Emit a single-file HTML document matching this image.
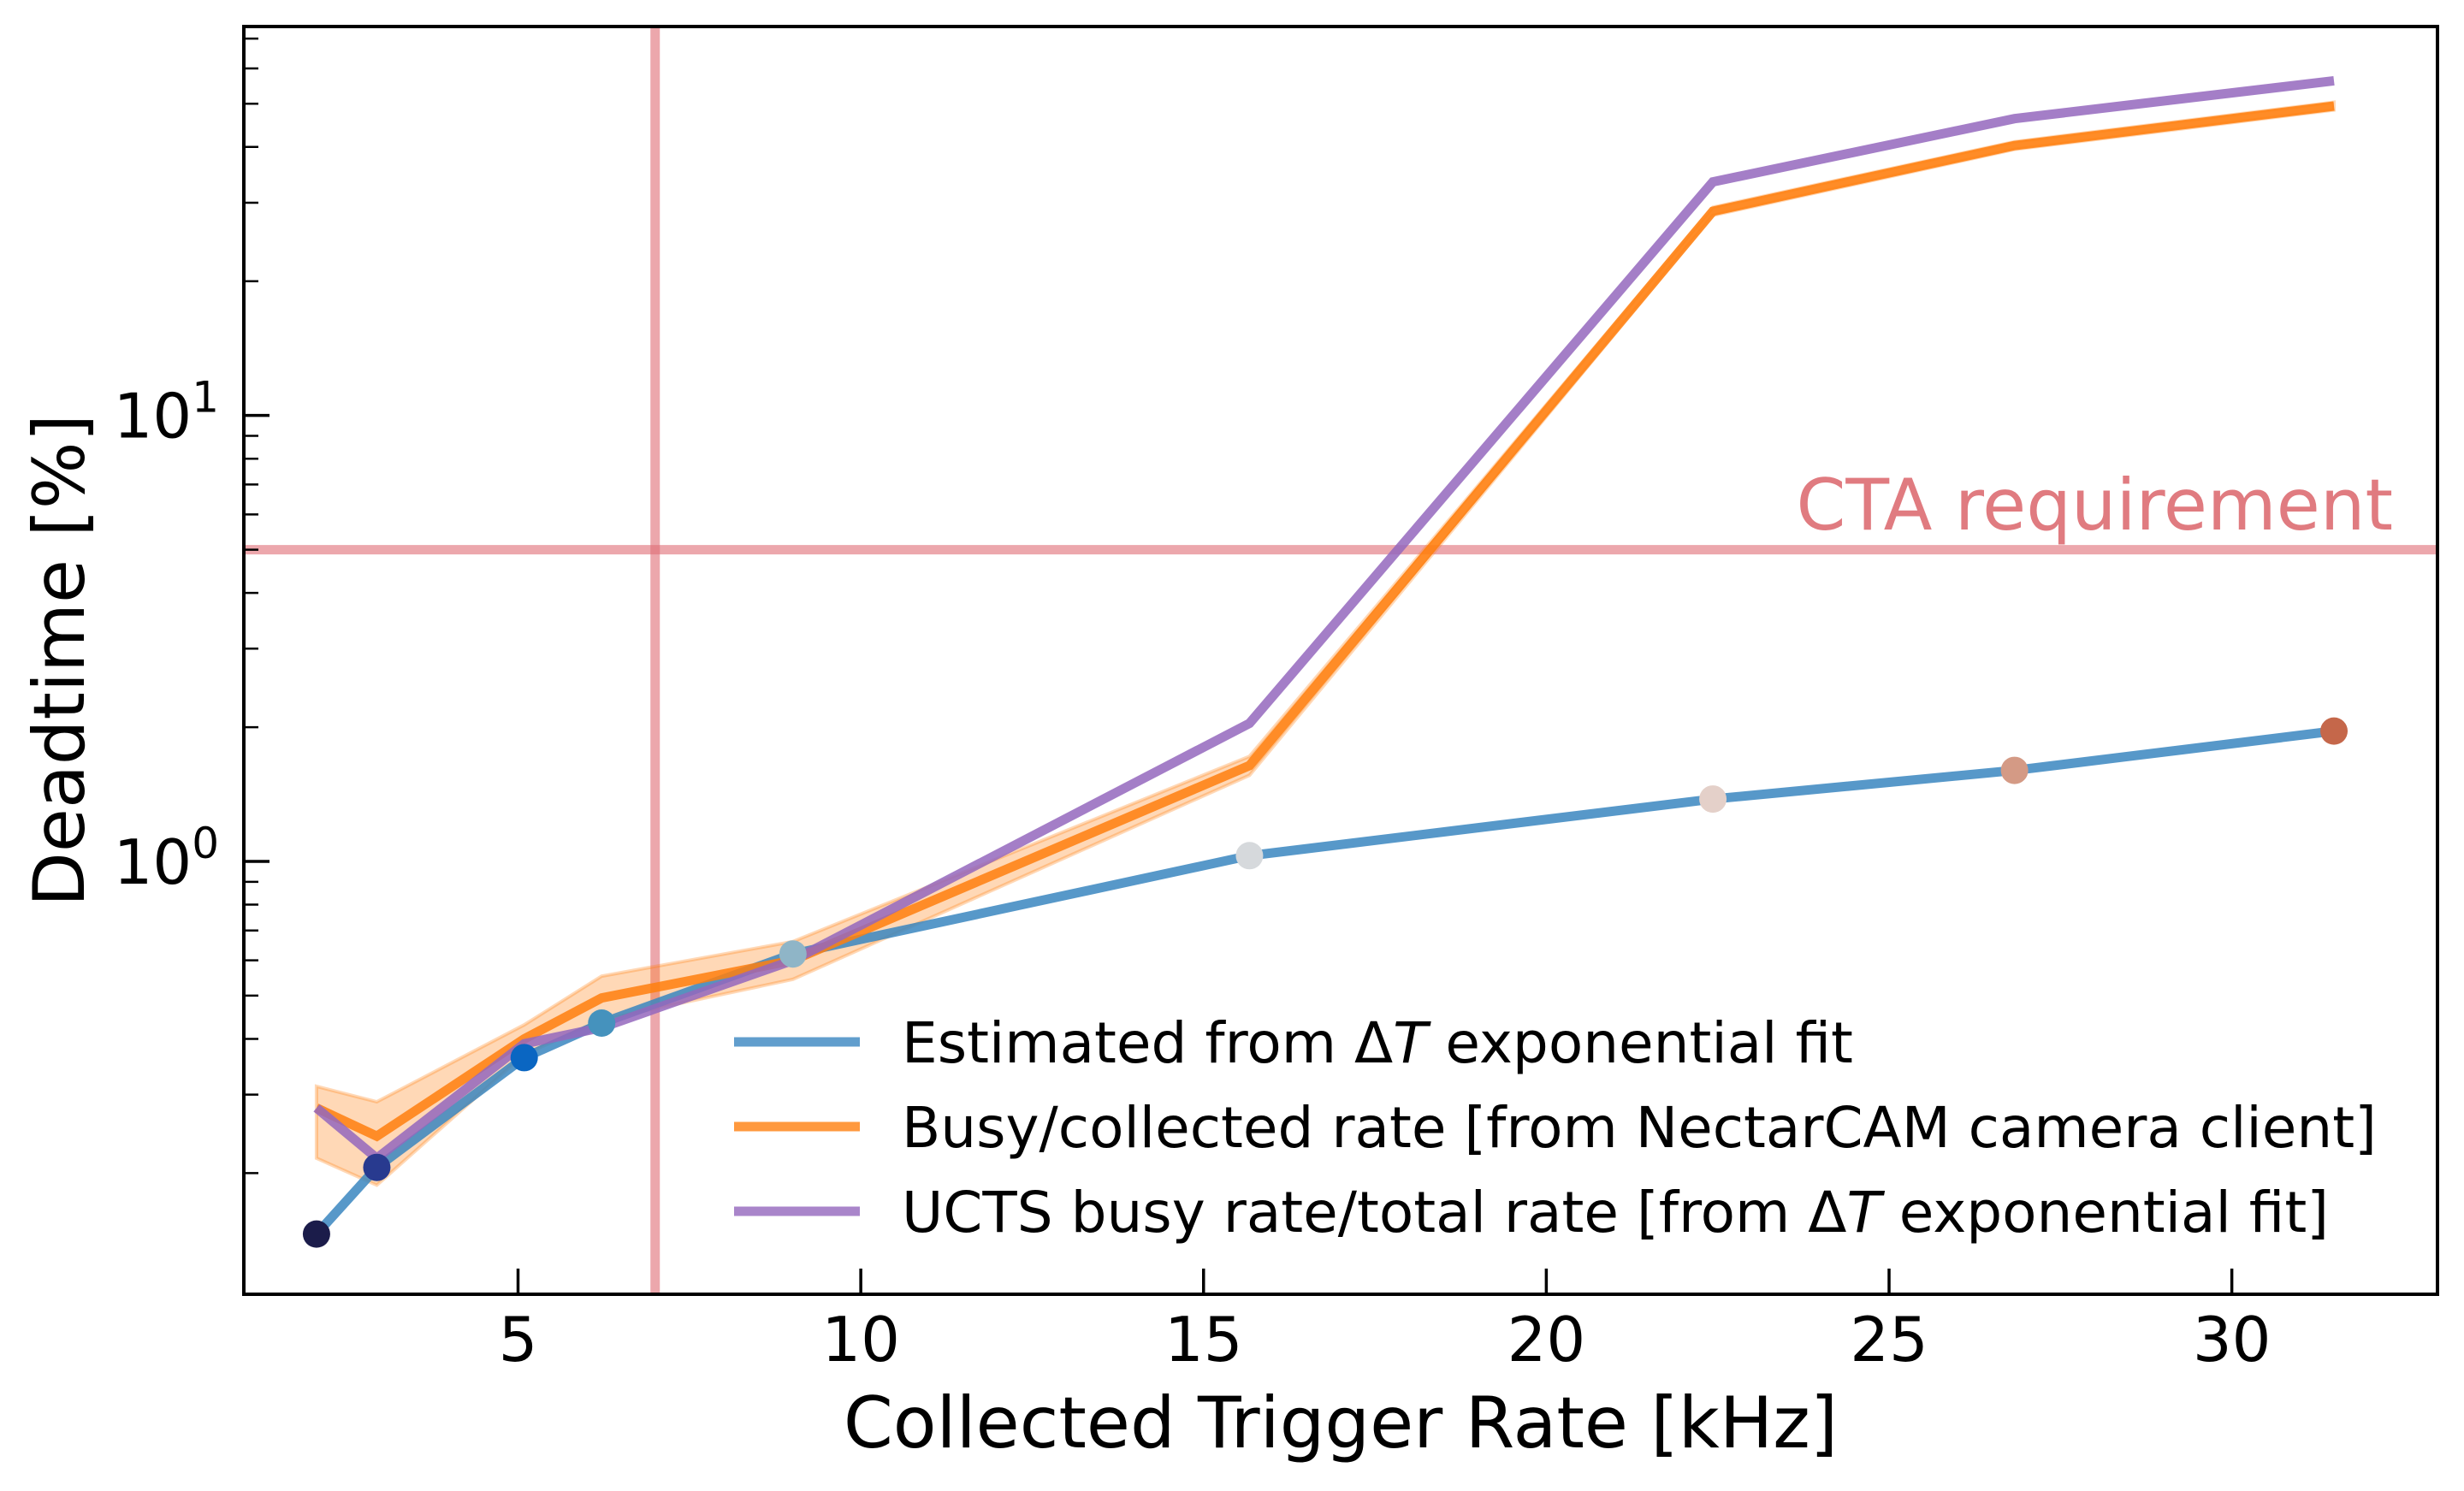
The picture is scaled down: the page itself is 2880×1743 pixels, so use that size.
<!DOCTYPE html>
<html><head><meta charset="utf-8"><style>
html,body{margin:0;padding:0;background:#fff;}
svg{display:block;font-family:"DejaVu Sans","Liberation Sans",sans-serif;}
</style></head><body>
<svg id="chart" width="2880" height="1743" viewBox="0 0 2880 1743" xmlns="http://www.w3.org/2000/svg">
<rect width="2880" height="1743" fill="#fff"/>
<g id="plot"></g>
</svg>
<script>
const rates = [2.06, 2.94, 5.09, 6.22, 9.01, 15.67, 22.43, 26.83, 31.49];
const estimated = [0.146, 0.206, 0.363, 0.434, 0.62, 1.03, 1.38, 1.60, 1.96];
const busy = [0.28, 0.242, 0.40, 0.494, 0.60, 1.64, 28.7, 40.3, 49.4];
const busyUpper = [0.313, 0.289, 0.43, 0.553, 0.661, 1.72, 29.3, 41.1, 50.4];
const busyLower = [0.216, 0.188, 0.369, 0.441, 0.544, 1.56, 28.1, 39.5, 48.4];
const ucts = [0.28, 0.216, 0.39, 0.424, 0.60, 2.04, 33.4, 46.3, 56.3];
const pointColors = ["#1b1c4a", "#283a8f", "#0a66c2", "#4592bd", "#8fb5c7", "#d6d9dc", "#e4d0c9", "#d49a85", "#c5674a"];
const xTicks = [5, 10, 15, 20, 25, 30];
const yMajor = [0, 1];
const ctaRequirement = 5;
const vLineRate = 7;

const L = 285, R = 2849, T = 31, B = 1513;
const xMin = 1, xMax = 33, yMinLog = Math.log10(0.107), yMaxLog = Math.log10(74.5);
const X = v => L + (v - xMin) / (xMax - xMin) * (R - L);
const Y = v => B - (Math.log10(v) - yMinLog) / (yMaxLog - yMinLog) * (B - T);
const NS = "http://www.w3.org/2000/svg";
const g = document.getElementById("plot");
function mk(tag, attrs, parent) {
  const e = document.createElementNS(NS, tag);
  for (const k in attrs) e.setAttribute(k, attrs[k]);
  (parent || g).appendChild(e);
  return e;
}
const defs = mk("defs", {});
const cp = mk("clipPath", {id: "clip"}, defs);
mk("rect", {x: L, y: T, width: R - L, height: B - T}, cp);
const data = mk("g", {"clip-path": "url(#clip)"});



let vl = mk("line", {x1: X(vLineRate), x2: X(vLineRate), y1: T, y2: B, stroke: "#e06c75", "stroke-opacity": 0.6, "stroke-width": 11}, data);


let hl = mk("line", {x1: L, x2: R, y1: Y(ctaRequirement), y2: Y(ctaRequirement), stroke: "#e06c75", "stroke-opacity": 0.6, "stroke-width": 11}, data);



let bandPts = rates.map((r, i) => X(r) + "," + Y(busyUpper[i]));
for (let i = rates.length - 1; i >= 0; i--) bandPts.push(X(rates[i]) + "," + Y(busyLower[i]));
let band = mk("polygon", {points: bandPts.join(" "), fill: "#ff7f0e", "fill-opacity": 0.3, stroke: "#ff7f0e", "stroke-opacity": 0.3, "stroke-width": 4}, data);



function line(vals, color, name) {
  const p = mk("polyline", {points: rates.map((r, i) => X(r) + "," + Y(vals[i])).join(" "), fill: "none", stroke: color, "stroke-width": 11, "stroke-opacity": 0.85, "stroke-linejoin": "miter"}, data);
  
  
}
line(estimated, "#3a86c0", "estimated-deadtime-line");
line(busy, "#ff7f0e", "busy-rate-line");
line(ucts, "#9467bd", "ucts-busy-rate-line");
rates.forEach((r, i) => {
  const c = mk("ellipse", {cx: X(r), cy: Y(estimated[i]), rx: 16, ry: 16, fill: pointColors[i]}, data);
  
  
});

let frame = mk("rect", {x: L, y: T, width: R - L, height: B - T, fill: "none", stroke: "#000", "stroke-width": 4});



xTicks.forEach(t => {
  const tk = mk("line", {x1: X(t), x2: X(t), y1: B, y2: B - 30, stroke: "#000", "stroke-width": 3.5});
  
  
  const tx = mk("text", {x: X(t), y: B + 78, "text-anchor": "middle", "font-size": 72, fill: "#000"});
  tx.textContent = t;
  
  
});
for (let k = -1; k <= 1; k++) {
  for (let m = 1; m <= 9; m++) {
    const v = m * Math.pow(10, k);
    const y = Y(v);
    if (y < T || y > B) continue;
    const tk = mk("line", {x1: L, x2: L + (m === 1 ? 30 : 17), y1: y, y2: y, stroke: "#000", "stroke-width": m === 1 ? 3.5 : 2.5});
    
    
  }
}
yMajor.forEach(e => {
  const y = Y(Math.pow(10, e));
  const tx = mk("text", {x: 256, y: y + 26, "text-anchor": "end", "font-size": 72, fill: "#000"});
  
  
  const t1 = mk("tspan", {}, tx); t1.textContent = "10";
  const t2 = mk("tspan", {"font-size": 50, dy: -30}, tx); t2.textContent = e;
});

let xt = mk("text", {x: (L + R) / 2, y: 1692, "text-anchor": "middle", "font-size": 83, fill: "#000"});
xt.textContent = "Collected Trigger Rate [kHz]";


let yt = mk("text", {x: 0, y: 0, transform: `translate(98,${(T + B) / 2}) rotate(-90)`, "text-anchor": "middle", "font-size": 83, fill: "#000"});
yt.textContent = "Deadtime [%]";



let ct = mk("text", {x: 2797, y: 619, "text-anchor": "end", "font-size": 83, fill: "#e07b80"});
ct.textContent = "CTA requirement";



const legendLabels = [["Estimated from Δ", "T", " exponential fit"], ["Busy/collected rate [from NectarCAM camera client]", "", ""], ["UCTS busy rate/total rate [from Δ", "T", " exponential fit]"]];
const legendColors = ["#3a86c0", "#ff7f0e", "#9467bd"];
legendLabels.forEach((lab, i) => {
  const y = 1218 + i * 99;
  const ln = mk("line", {x1: 858, x2: 1005, y1: y, y2: y, stroke: legendColors[i], "stroke-width": 11, "stroke-opacity": 0.8});
  
  
  const tx = mk("text", {x: 1054, y: y + 24, "font-size": 66, fill: "#000"});
  
  
  const a = mk("tspan", {}, tx); a.textContent = lab[0];
  if (lab[1]) { const b = mk("tspan", {"font-style": "italic"}, tx); b.textContent = lab[1]; }
  if (lab[2]) { const c = mk("tspan", {}, tx); c.textContent = lab[2]; }
});
</script>
</body></html>
